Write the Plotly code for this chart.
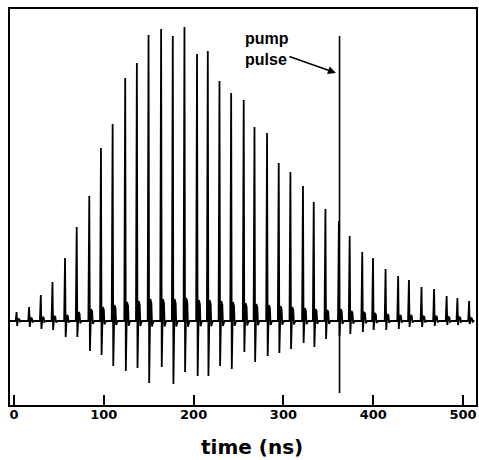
import plotly.graph_objects as go

# pulse arrival times (ns)
pulse_time = [3, 17, 30, 43, 57, 70, 84, 97, 110, 124, 137, 150, 164, 177, 190, 204, 216,
              229, 242, 256, 268, 282, 295, 308, 322, 334, 347, 362, 374, 388, 400, 414,
              428, 440, 454, 468, 482, 494, 507]
# positive peak amplitude (arb. units)
pulse_peak = [9, 14, 26, 39, 63, 94, 125, 173, 197, 243, 258, 286, 292, 285, 294, 267, 270,
              240, 228, 221, 194, 188, 158, 149, 135, 119, 112, 100, 85, 69, 63, 52,
              45, 41, 34, 32, 25, 23, 20]
# negative lobe amplitude
pulse_trough = [-5, -6, -8, -9, -16, -16, -30, -34, -45, -50, -47, -62, -46, -63, -51, -55, -55,
                -45, -48, -31, -41, -35, -32, -28, -22, -26, -18, -15, -13, -11, -9, -9,
                -8, -6, -6, -5, -4, -4, -3]
# ringing bump after each pulse
pulse_ring = [2, 3, 4, 5, 6, 9, 12, 14, 16, 19, 20, 22, 22, 22, 23, 21, 21,
              20, 19, 18, 17, 16, 15, 14, 13, 12, 11, 12, 10, 9, 8, 7,
              6, 6, 5, 5, 4, 4, 3]

pump_time = 362.5
pump_top = 285
pump_bottom = -72

tick_vals = [0, 100, 200, 300, 400, 500]
tick_text = ["0", "100", "200", "300", "400", "500"]

# build the trace path
xs = [-4.5]
ys = [0]
for t, p, n, r in zip(pulse_time, pulse_peak, pulse_trough, pulse_ring):
    xs += [t - 1.2, t - 0.2, t + 0.5, t + 1.3, t + 1.8, t + 3.0, t + 3.7, t + 4.6, t + 5.6]
    ys += [0, p, n, 0.4 * r, r, 0.8 * r, -0.25 * r, -0.1 * r, 0]
xs.append(511)
ys.append(0)

fig = go.Figure()
fig.add_trace(go.Scatter(x=xs, y=ys, mode="lines",
                         line=dict(color="black", width=1.8), hoverinfo="skip"))
fig.add_trace(go.Scatter(x=[pump_time, pump_time], y=[pump_bottom, pump_top], mode="lines",
                         line=dict(color="black", width=1.6), hoverinfo="skip"))

fig.add_annotation(x=255, y=272, xref="x", yref="y", text="<b>pump<br>pulse</b>",
                   showarrow=False, xanchor="left", yanchor="middle", align="left",
                   font=dict(family="Liberation Sans, Arial, sans-serif", size=16, color="black"))
fig.add_annotation(x=358.5, y=248, ax=305, ay=265, xref="x", yref="y", axref="x", ayref="y",
                   text="", showarrow=True, arrowhead=2, arrowsize=1, arrowwidth=1.6,
                   arrowcolor="black")
fig.add_annotation(x=0.52, y=-0.106, xref="paper", yref="paper", text="<b>time (ns)</b>",
                   showarrow=False, xanchor="center", yanchor="middle",
                   font=dict(family="DejaVu Sans", size=20, color="black"))

fig.update_layout(
    width=479, height=460,
    margin=dict(l=10, r=3, t=9, b=55),
    plot_bgcolor="white", paper_bgcolor="white",
    showlegend=False,
    xaxis=dict(range=[-4.5, 514.5], tickvals=tick_vals, ticktext=tick_text,
               ticks="inside", ticklen=10, tickwidth=1.5, tickcolor="black",
               ticklabelstandoff=-4,
               showline=True, linecolor="black", linewidth=2, mirror=True,
               showgrid=False, zeroline=False, automargin=False,
               tickfont=dict(family="DejaVu Sans", size=13, color="black", weight="bold")),
    yaxis=dict(range=[-84, 312], showticklabels=False, ticks="",
               showline=True, linecolor="black", linewidth=2, mirror=True,
               showgrid=False, zeroline=False, automargin=False),
)

fig.write_html("out.html", config={"displayModeBar": False},
               post_script="document.body.style.margin='0';document.body.style.overflow='hidden';")
